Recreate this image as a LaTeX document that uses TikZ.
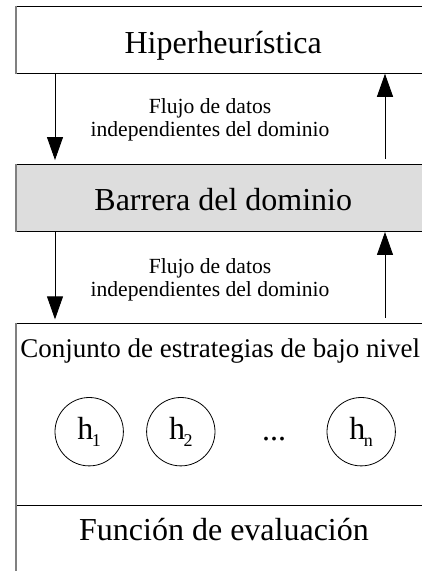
\documentclass[tikz,border=0pt]{standalone}
\usepackage{fontspec}
\setmainfont{Liberation Serif}
\usetikzlibrary{positioning,arrows.meta}

\definecolor{barrierfill}{HTML}{DDDDDD}
\definecolor{edgegray}{HTML}{808080}

\newcommand{\hsub}[1]{h\kern-1.5pt\raisebox{-7pt}{\fontsize{18}{20}\selectfont #1}}

\begin{document}
\begin{tikzpicture}[
		x=1pt,y=-1pt,
		layerbox/.style={
				draw,
				line width=0.9pt,
				minimum width=413.5pt,
				inner sep=0pt
			},
		title/.style={
				anchor=base,
				inner sep=0pt,
				font=\fontsize{32}{38}\selectfont
			},
		flowtext/.style={
				align=center,
				inner sep=0pt,
				font=\fontsize{21.6}{23.3}\selectfont
			},
		heur/.style={
				draw,
				circle,
				line width=0.8pt,
				minimum size=68.4pt,
				inner sep=0pt,
				font=\fontsize{32}{38}\selectfont
			},
		link/.style={
				line width=0.9pt,
				-{Triangle[length=23pt,width=16pt]}
			},
		leftedge/.style={
				draw=edgegray,
				line width=1.7pt
			}
	]

	\useasboundingbox (0,0) rectangle (422,571);
	\clip (0,0) rectangle (422,571);

	% layers
	\node[layerbox,minimum height=67.3pt] (hyper) at (223.25,39.65) {};
	\node[layerbox,minimum height=67pt,fill=barrierfill] (barrier) at (223.25,198) {};
	\node[layerbox,minimum height=181.7pt] (pool) at (223.25,414.15) {};
	\node[layerbox,minimum height=85pt] (evalbox) at (223.25,547.5) {};

	\foreach \b in {hyper,barrier,pool,evalbox}
	\draw[leftedge] (\b.north west) -- (\b.south west);

	% labels
	\node[title] (hyperlabel) at ([yshift=-13.65pt]hyper.center) {Hiperheurística};
	\node[title] (barrierlabel) at ([yshift=-12pt]barrier.center) {Barrera del dominio};
	\node[title,font=\fontsize{27}{32}\selectfont] (poollabel) at ([xshift=-3pt,yshift=-35pt]pool.north) {Conjunto de estrategias de bajo nivel};
	\node[title] (evallabel) at (224,540) {Función de evaluación};

	\node[flowtext] (flowtop) at (210,120) {Flujo de datos\\independientes del dominio};
	\node[flowtext] (flowbottom) at (210,280) {Flujo de datos\\independientes del dominio};

	% low level heuristics
	\node[heur] (h1) at (89.2,431.7) {\hsub{1}};
	\node[heur,right=22.4pt of h1] (h2) {\hsub{2}};
	\node[heur] (hn) at (361.2,431.7) {\hsub{n}};
	\node[title] (dots) at (274,440) {...};

	% data flow
	\draw[link,shorten >=4pt] ([xshift=-168.25pt]hyper.south) -- ([xshift=-168.25pt]barrier.north);
	\draw[link,shorten <=5pt] ([xshift=161.75pt]barrier.north) -- ([xshift=161.75pt]hyper.south);

	\draw[link,shorten >=3.5pt] ([xshift=-168.25pt]barrier.south) -- ([xshift=-168.25pt]pool.north);
	\draw[link,shorten <=5pt] ([xshift=161.75pt]pool.north) -- ([xshift=161.75pt]barrier.south);

\end{tikzpicture}
\end{document}
